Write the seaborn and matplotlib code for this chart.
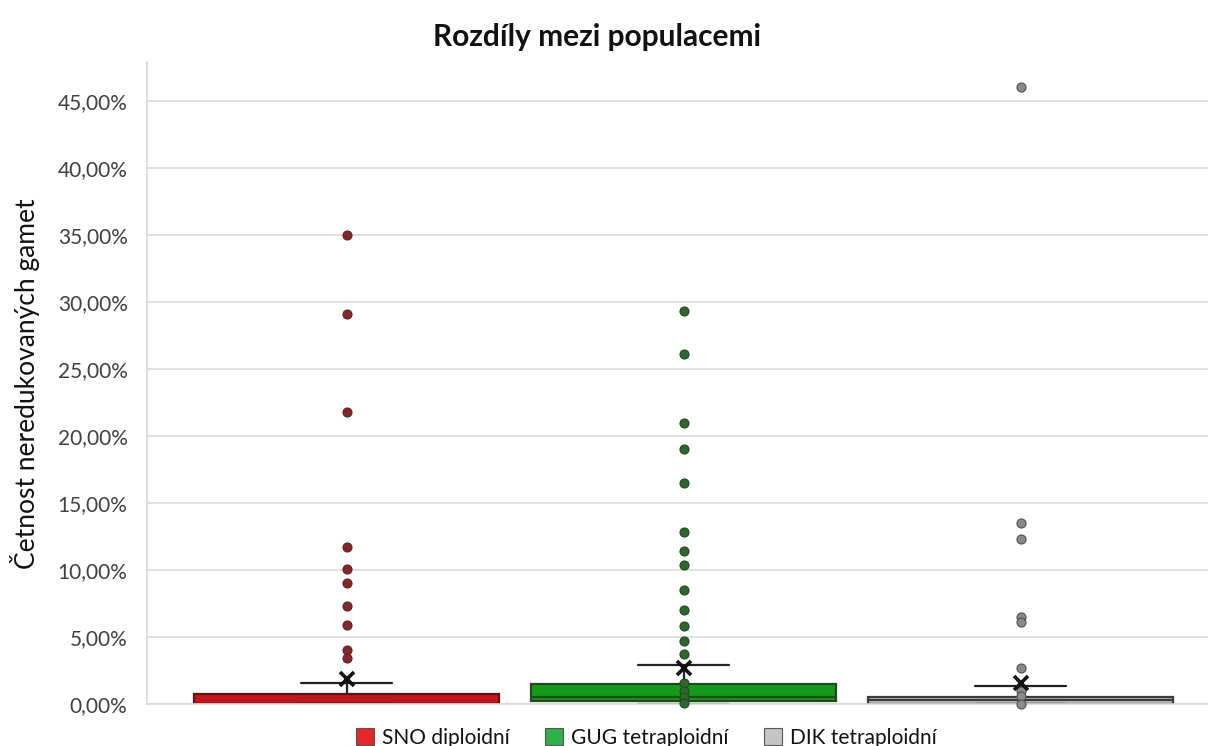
import pandas as pd
import matplotlib
matplotlib.use("Agg")
import matplotlib.pyplot as plt
from matplotlib.patches import Patch
from matplotlib.ticker import FuncFormatter, MultipleLocator
import seaborn as sns

# populations
groups = ["SNO diploidní", "GUG tetraploidní", "DIK tetraploidní"]

# box statistics (in %)
q1 = [0.0, 0.2, 0.0]
medians = [0.0, 0.5, 0.3]
q3 = [0.75, 1.5, 0.52]
whis_lo = [0.0, 0.0, 0.0]
whis_hi = [1.6, 2.9, 1.35]
means = [1.9, 2.65, 1.6]

# individual points shown in the chart (in %)
sno_points = [35.0, 29.1, 21.8, 11.7, 10.1, 9.0, 7.3, 5.9, 4.0, 3.4]
gug_points = [29.3, 26.1, 21.0, 19.0, 16.5, 12.8, 11.4, 10.4, 8.5, 7.0, 5.8,
              4.7, 3.7, 1.6, 1.0, 0.5, 0.1]
dik_points = [46.0, 13.5, 12.3, 6.5, 6.1, 2.7, 1.0, 0.6, 0.0]

box_colors = ["#c0171d", "#159a17", "#bfbfbf"]
edge_colors = ["#5e1212", "#1e4a1e", "#3c3c3c"]
dot_colors = ["#7e2a2a", "#2f662f", "#8a8a8a"]
dot_edges = ["#6a2020", "#1f4a1f", "#505050"]
legend_colors = ["#e5262b", "#2fb04a", "#c6c6c6"]

df = pd.DataFrame({
    "group": [groups[0]] * len(sno_points) + [groups[1]] * len(gug_points)
             + [groups[2]] * len(dik_points),
    "value": sno_points + gug_points + dik_points,
})

sns.set_theme(style="whitegrid")
plt.rcParams["font.family"] = ["Lato", "DejaVu Sans"]

fig = plt.figure(figsize=(12.08, 7.46), dpi=100)
ax = fig.add_axes([147 / 1208, 1 - 704 / 746, (1208 - 147) / 1208, (704 - 62) / 746])

stats = []
for i in range(3):
    stats.append({"q1": q1[i], "med": medians[i], "q3": q3[i],
                  "whislo": whis_lo[i], "whishi": whis_hi[i],
                  "mean": means[i], "label": groups[i]})

bp = ax.bxp(stats, positions=[0, 1, 2], widths=0.905, capwidths=0.27,
            patch_artist=True, showmeans=True, showfliers=False,
            whiskerprops=dict(color="#222222", linewidth=1.6),
            capprops=dict(color="#222222", linewidth=1.6),
            meanprops=dict(marker="x", markeredgecolor="#111111",
                           markersize=10, markeredgewidth=2.6),
            manage_ticks=False)
for i, box in enumerate(bp["boxes"]):
    box.set_facecolor(box_colors[i])
    box.set_edgecolor(edge_colors[i])
    box.set_linewidth(1.6)
    box.set_zorder(2)
for i, med in enumerate(bp["medians"]):
    med.set_color(edge_colors[i])
    med.set_linewidth(1.6)
for ln in bp["whiskers"] + bp["caps"]:
    ln.set_zorder(2.5)
for m in bp["means"]:
    m.set_zorder(5)
    m.set_clip_on(False)

for i, g in enumerate(groups):
    sub = df[df["group"] == g]
    sns.stripplot(data=sub, x=[i] * len(sub), y="value", native_scale=True,
                  jitter=False, color=dot_colors[i], edgecolor=dot_edges[i],
                  linewidth=0.8, size=6.5, ax=ax, zorder=4, clip_on=False)

ax.set_xlim(-0.593, 2.555)
ax.set_ylim(0, 47.9)
ax.yaxis.set_major_locator(MultipleLocator(5))
ax.yaxis.set_major_formatter(FuncFormatter(lambda v, p: f"{v:.2f}%".replace(".", ",")))
ax.set_xticks([])
ax.set_xlabel("")
ax.set_ylabel("")
ax.tick_params(axis="y", labelsize=15, labelcolor="#404040", length=0, pad=14)
ax.grid(axis="y", color="#d9d9d9", linewidth=1.1)
ax.grid(axis="x", visible=False)
for side in ["top", "right"]:
    ax.spines[side].set_visible(False)
ax.spines["left"].set_color("#d9d9d9")
ax.spines["bottom"].set_color("#d9d9d9")
ax.set_facecolor("white")

fig.text(0.494, 0.950, "Rozdíly mezi populacemi", ha="center", va="center",
         fontsize=21.5, fontweight="bold", color="#111111")
fig.text(0.021, 1 - 384 / 746, "Četnost neredukovaných gamet", rotation=90,
         ha="center", va="center", fontsize=19, color="#111111")

handles = [Patch(facecolor=legend_colors[i], edgecolor="#555555", linewidth=0.8,
                 label=groups[i]) for i in range(3)]
fig.legend(handles=handles, loc="center", bbox_to_anchor=(0.535, 0.011), ncol=3,
           frameon=False, fontsize=15, handlelength=0.85, handleheight=0.85,
           handletextpad=0.4, columnspacing=1.7, borderpad=0,
           labelcolor="#111111")

fig.savefig("out.png", dpi=100, facecolor="white")
